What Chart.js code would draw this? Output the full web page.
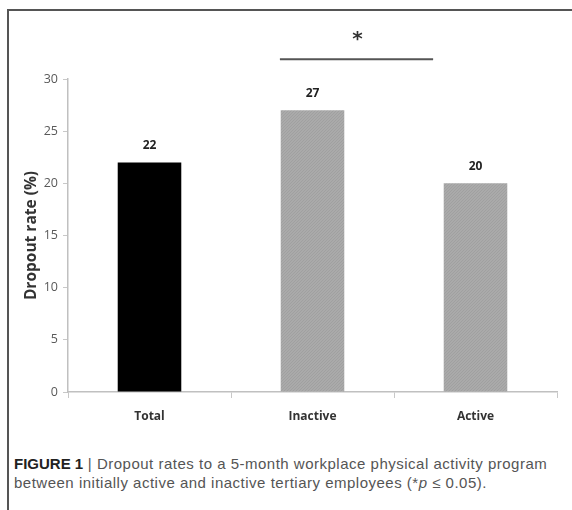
<!DOCTYPE html>
<html>
<head>
<meta charset="utf-8">
<script src="https://cdn.jsdelivr.net/npm/chart.js@4/dist/chart.umd.min.js"></script>
<style>
  html, body { margin: 0; padding: 0; background: #fff; }
  #wrap { position: relative; width: 572px; height: 510px; overflow: hidden; }
  #frame { position: absolute; left: 7px; top: 9px; width: 580px; height: 520px;
           border-left: 2px solid #555; border-top: 2px solid #555; box-sizing: border-box; }
  #cv { position: absolute; left: 0; top: 0; }
  #caption { position: absolute; left: 14px; top: 454px; width: 552px;
             font-family: "Liberation Sans", Arial, sans-serif; font-size: 15px; line-height: 19px;
             color: #555; letter-spacing: 0.5px; }
  #caption b { color: #222; letter-spacing: 0; }
</style>
</head>
<body>
<div id="wrap">
  <div id="frame"></div>
  <canvas id="cv" width="572" height="430"></canvas>
  <div id="caption"><b>FIGURE 1</b> | Dropout rates to a 5-month workplace physical activity program between initially active and inactive tertiary employees (*<i>p</i> ≤ 0.05).</div>
</div>
<script>
const categories = ["Total", "Inactive", "Active"];
const dropoutRates = [22, 27, 20];
const yTicks = [0, 5, 10, 15, 20, 25, 30];
const sigPair = [1, 2];
const sigLabel = "*";
const yTitle = "Dropout rate (%)";

function hatch(c1, c2) {
  const p = document.createElement('canvas');
  p.width = 3; p.height = 3;
  const g = p.getContext('2d');
  g.fillStyle = c1; g.fillRect(0, 0, 3, 3);
  g.fillStyle = c2;
  for (let i = 0; i < 3; i++) g.fillRect(i, (2 - i), 1, 1);
  return g.createPattern(p, 'repeat');
}
const ctx = document.getElementById('cv').getContext('2d');
const grayPat = hatch('#aaaaaa', '#a0a0a0');

const valueLabels = {
  id: 'valueLabels',
  afterDatasetsDraw(chart) {
    const c = chart.ctx;
    const meta = chart.getDatasetMeta(0);
    c.save();
    c.font = 'bold 12px "Open Sans", sans-serif';
    c.fillStyle = '#222';
    c.textAlign = 'center';
    c.textBaseline = 'middle';
    meta.data.forEach((bar, i) => {
      c.fillText(String(dropoutRates[i]), bar.x, bar.y - 17);
    });
    // significance bar
    const xs = chart.scales.x, ys = chart.scales.y;
    const w = xs.getPixelForValue(1) - xs.getPixelForValue(0);
    const x1 = xs.getPixelForValue(sigPair[0]) - w * 0.2;
    const x2 = xs.getPixelForValue(sigPair[1]) - w * 0.26;
    const y = ys.getPixelForValue(31.9);
    c.strokeStyle = '#555';
    c.lineWidth = 2;
    c.beginPath(); c.moveTo(x1, y); c.lineTo(x2, y); c.stroke();
    c.font = 'bold 20px "DejaVu Sans", sans-serif';
    c.fillStyle = '#333';
    c.fillText(sigLabel, (x1 + x2) / 2 + 1, y - 19);
    c.restore();
  }
};

new Chart(ctx, {
  type: 'bar',
  data: {
    labels: categories,
    datasets: [{
      data: dropoutRates,
      backgroundColor: ['#000000', grayPat, grayPat],
      borderWidth: 0,
      categoryPercentage: 1,
      barPercentage: 0.39
    }]
  },
  options: {
    responsive: false,
    animation: false,
    events: [],
    layout: { padding: { left: 22, right: 15, top: 79, bottom: 0 } },
    plugins: { legend: { display: false }, tooltip: { enabled: false }, title: { display: false } },
    scales: {
      x: {
        grid: { display: true, drawOnChartArea: false, offset: true, tickLength: 6, color: '#c8c8c8', lineWidth: 1 },
        border: { display: true, color: '#c0c0c0', width: 1.5 },
        ticks: { color: '#333', padding: 11, font: { family: '"Open Sans", sans-serif', size: 12, weight: 'bold' } },
        afterFit(s) { s.height = 38; }
      },
      y: {
        min: 0, max: 30,
        afterBuildTicks(s) { s.ticks = yTicks.map(v => ({ value: v })); },
        grid: { display: true, drawOnChartArea: false, tickLength: 5, color: '#c8c8c8' },
        border: { display: true, color: '#c0c0c0', width: 1.5 },
        ticks: { color: '#595959', padding: 5, font: { family: '"Open Sans", sans-serif', size: 12.5 } },
        title: { display: true, text: yTitle, color: '#333', padding: 0,
                 font: { family: '"Open Sans", sans-serif', size: 15.5, weight: 'bold' } },
        afterFit(s) { s.width = 46; }
      }
    }
  },
  plugins: [valueLabels]
});
</script>
</body>
</html>
